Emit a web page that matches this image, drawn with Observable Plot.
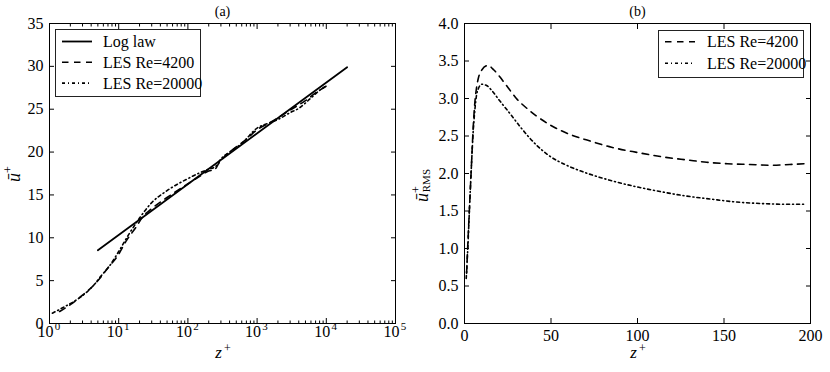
<!DOCTYPE html>
<html>
<head>
<meta charset="utf-8">
<script src="https://cdn.jsdelivr.net/npm/d3@7"></script>
<script src="https://cdn.jsdelivr.net/npm/@observablehq/plot@0.6"></script>
<style>
  html, body { margin: 0; padding: 0; background: white; }
  #wrap { display: flex; width: 830px; height: 372px; }
</style>
</head>
<body>
<div id="wrap"></div>
<script>
// ---------- Panel (a): mean velocity profile ----------
const logLawZ = [5, 20000];
const logLawU = [8.55, 29.9];

const a4200Z = [1.4, 2, 3, 4.4, 5.5, 7, 9.5, 13, 18, 22, 30, 50, 100, 150, 200, 240, 280, 350, 500, 700, 1000, 1500, 2000, 3000, 5000, 7000, 10000];
const a4200U = [1.4, 2.2, 3.3, 4.5, 5.4, 6.5, 7.8, 9.7, 11.3, 12.4, 13.4, 14.7, 16.3, 17.2, 17.8, 17.9, 18.7, 19.6, 20.6, 21.5, 22.6, 23.4, 24.0, 24.9, 26.0, 26.9, 27.7];

const a20000Z = [1.1, 1.6, 2.5, 3.5, 4.5, 5.5, 7.5, 10, 14, 20, 30, 50, 100, 150, 200, 250, 300, 400, 600, 1000, 1500, 2000, 3000, 4000, 6000, 8000, 9500];
const a20000U = [1.2, 1.9, 2.8, 3.7, 4.6, 5.5, 6.8, 8.4, 10.4, 12.3, 14.1, 15.5, 16.9, 17.6, 18.0, 18.3, 19.2, 20.0, 21.0, 22.8, 23.4, 23.8, 24.6, 25.1, 26.3, 27.2, 27.6];

const aXMajor = [1, 10, 100, 1000, 10000, 100000];
const aXMajorBase = ["10", "10", "10", "10", "10", "10"];
const aXMajorExp = ["0", "1", "2", "3", "4", "5"];
const aXMinor = [2,3,4,5,6,7,8,9, 20,30,40,50,60,70,80,90, 200,300,400,500,600,700,800,900,
                 2000,3000,4000,5000,6000,7000,8000,9000, 20000,30000,40000,50000,60000,70000,80000,90000];
const aYTicks = [0, 5, 10, 15, 20, 25, 30, 35];

// ---------- Panel (b): RMS velocity fluctuation ----------
const b4200Z = [1.2, 2, 3, 4, 5, 6, 7, 8, 10, 13.5, 17, 20, 25, 30, 36, 42, 50, 60, 73, 85, 100, 115, 129, 140, 152, 165, 177, 188, 197];
const b4200U = [0.67, 1.1, 1.6, 2.1, 2.6, 2.95, 3.15, 3.27, 3.38, 3.44, 3.38, 3.3, 3.15, 3.0, 2.87, 2.76, 2.64, 2.53, 2.43, 2.35, 2.28, 2.22, 2.18, 2.15, 2.13, 2.12, 2.11, 2.12, 2.13];

const b20000Z = [1, 2, 3, 4, 5, 6, 7, 8, 10, 13, 16, 20, 26.6, 33, 42, 50, 59, 70, 84, 100, 113, 128, 142, 157, 171, 185, 197];
const b20000U = [0.6, 1.05, 1.6, 2.1, 2.55, 2.85, 3.05, 3.13, 3.19, 3.17, 3.1, 2.98, 2.79, 2.6, 2.37, 2.22, 2.11, 2.01, 1.91, 1.82, 1.76, 1.70, 1.66, 1.62, 1.60, 1.59, 1.59];

const bXTicks = [0, 50, 100, 150, 200];
const bYTicks = [0, 0.5, 1.0, 1.5, 2.0, 2.5, 3.0, 3.5, 4.0];

const legendA = ["Log law", "LES Re=4200", "LES Re=20000"];
const legendB = ["LES Re=4200", "LES Re=20000"];

// ---------- styling ----------
const FONT = "'Liberation Serif', 'Times New Roman', serif";
const DASH = "6.5,5.5";
const DASHDOT = "3,3,1,3";
const LW = 1.6;

const zip = (xs, ys) => xs.map((x, i) => ({x, y: ys[i]}));

function baseStyle() {
  return {fontFamily: FONT, fontSize: "16px", background: "white", color: "black", overflow: "visible"};
}

// Panel (a)
const plotA = Plot.plot({
  width: 410, height: 372,
  marginTop: 23, marginRight: 15, marginBottom: 49, marginLeft: 49,
  style: baseStyle(),
  x: {type: "log", domain: [1, 1e5]},
  y: {domain: [0, 35]},
  marks: [
    Plot.axisX(aXMinor, {anchor: "bottom", tickSize: -2.5, tickFormat: () => "", label: null}),
    Plot.axisX(aXMajor, {anchor: "bottom", tickSize: -5, tickFormat: () => "", label: null}),
    Plot.axisX(aXMinor, {anchor: "top", tickSize: -2.5, tickFormat: () => "", label: null}),
    Plot.axisX(aXMajor, {anchor: "top", tickSize: -5, tickFormat: () => "", label: null}),
    Plot.axisY(aYTicks, {anchor: "left", tickSize: -5, tickPadding: 11, tickFormat: d => String(d), label: null}),
    Plot.axisY(aYTicks, {anchor: "right", tickSize: -5, tickFormat: () => "", label: null}),
    Plot.text(aXMajor, {x: d => d, frameAnchor: "bottom", text: (d, i) => aXMajorBase[i], dx: -4, dy: 13, fontSize: 16}),
    Plot.text(aXMajor, {x: d => d, frameAnchor: "bottom", text: (d, i) => aXMajorExp[i], dx: 8, dy: 6, fontSize: 11}),
    Plot.line(zip(logLawZ, logLawU), {x: "x", y: "y", stroke: "black", strokeWidth: 1.8}),
    Plot.line(zip(a4200Z, a4200U), {x: "x", y: "y", stroke: "black", strokeWidth: LW, strokeDasharray: DASH, curve: "monotone-x"}),
    Plot.line(zip(a20000Z, a20000U), {x: "x", y: "y", stroke: "black", strokeWidth: LW, strokeDasharray: DASHDOT, curve: "monotone-x"}),
    Plot.frame({stroke: "black", strokeWidth: 1}),
    Plot.text(["(a)"], {frameAnchor: "top", text: d => d, dy: -8, lineAnchor: "bottom", fontSize: 14}),
    Plot.text(["z"], {frameAnchor: "bottom", text: d => d, dx: -4, dy: 34, fontSize: 17, fontStyle: "italic"}),
    Plot.text(["+"], {frameAnchor: "bottom", text: d => d, dx: 5, dy: 28, fontSize: 12})
  ]
});

// Panel (b)
const plotB = Plot.plot({
  width: 420, height: 372,
  marginTop: 23, marginRight: 20, marginBottom: 49, marginLeft: 54,
  style: baseStyle(),
  x: {domain: [0, 200]},
  y: {domain: [0, 4]},
  marks: [
    Plot.axisX(bXTicks, {anchor: "bottom", tickSize: -5, tickPadding: 11, tickFormat: d => String(d), label: null}),
    Plot.axisX(bXTicks, {anchor: "top", tickSize: -5, tickFormat: () => "", label: null}),
    Plot.axisY(bYTicks, {anchor: "left", tickSize: -5, tickPadding: 11, tickFormat: d => d.toFixed(1), label: null}),
    Plot.axisY(bYTicks, {anchor: "right", tickSize: -5, tickFormat: () => "", label: null}),
    Plot.line(zip(b4200Z, b4200U), {x: "x", y: "y", stroke: "black", strokeWidth: LW, strokeDasharray: DASH, curve: "monotone-x"}),
    Plot.line(zip(b20000Z, b20000U), {x: "x", y: "y", stroke: "black", strokeWidth: LW, strokeDasharray: DASHDOT, curve: "monotone-x"}),
    Plot.frame({stroke: "black", strokeWidth: 1}),
    Plot.text(["(b)"], {frameAnchor: "top", text: d => d, dy: -8, lineAnchor: "bottom", fontSize: 14}),
    Plot.text(["z"], {frameAnchor: "bottom", text: d => d, dx: -4, dy: 34, fontSize: 17, fontStyle: "italic"}),
    Plot.text(["+"], {frameAnchor: "bottom", text: d => d, dx: 5, dy: 28, fontSize: 12})
  ]
});

// ---------- decorations: rotated y labels and legends ----------
function yLabel(svg, x, y, sub) {
  const t = d3.select(svg).append("text")
    .attr("transform", `translate(${x},${y}) rotate(-90)`)
    .attr("font-family", FONT).attr("fill", "black").attr("text-anchor", "start");
  t.append("tspan").attr("font-size", 18).attr("font-style", "italic").text("ū");
  t.append("tspan").attr("font-size", 12).attr("dy", -8).text("+");
  if (sub) t.append("tspan").attr("font-size", 11).attr("dx", -6).attr("dy", 10).text(sub);
}

function legend(svg, box, rows, styles) {
  const g = d3.select(svg).append("g");
  g.append("rect").attr("x", box.x).attr("y", box.y).attr("width", box.w).attr("height", box.h)
    .attr("fill", "white").attr("stroke", "#222").attr("stroke-width", 1);
  rows.forEach((label, i) => {
    const yy = box.row0 + i * box.dy;
    g.append("line").attr("x1", box.lx1).attr("x2", box.lx2).attr("y1", yy).attr("y2", yy)
      .attr("stroke", "black").attr("stroke-width", styles[i].w).attr("stroke-dasharray", styles[i].dash);
    g.append("text").attr("x", box.tx).attr("y", yy).attr("dy", "0.35em")
      .attr("text-anchor", "start")
      .attr("font-family", FONT).attr("font-size", 16).attr("fill", "black").text(label);
  });
}

yLabel(plotA, 20, 182, null);
legend(plotA, {x: 55.5, y: 29.5, w: 145, h: 67, row0: 41.5, dy: 20.8, lx1: 62, lx2: 92, tx: 103},
  legendA, [{w: 1.8, dash: null}, {w: LW, dash: DASH}, {w: LW, dash: DASHDOT}]);

yLabel(plotB, 18, 202, "RMS");
legend(plotB, {x: 248.5, y: 30.5, w: 145, h: 47, row0: 41.7, dy: 21.6, lx1: 255, lx2: 285, tx: 297},
  legendB, [{w: LW, dash: DASH}, {w: LW, dash: DASHDOT}]);

document.getElementById("wrap").append(plotA, plotB);
</script>
</body>
</html>
